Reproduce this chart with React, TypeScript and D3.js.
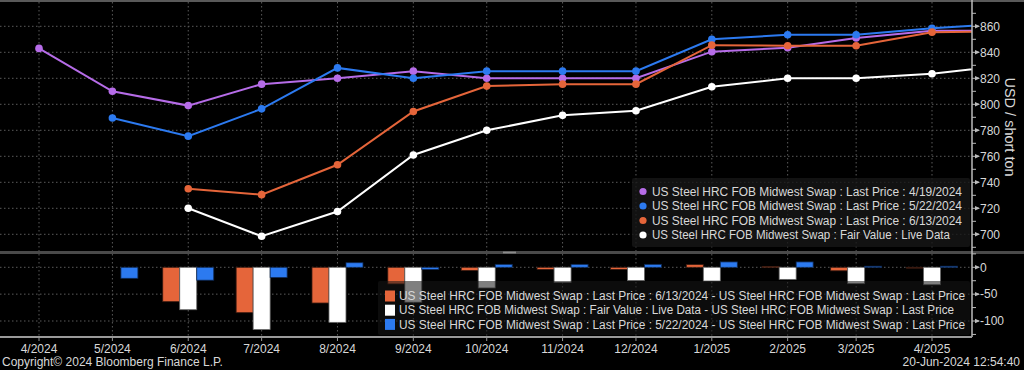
import React from "react";
import * as d3 from "d3";

// ---------- data ----------
const months = [
  "2024-04-01", "2024-05-01", "2024-06-01", "2024-07-01", "2024-08-01", "2024-09-01",
  "2024-10-01", "2024-11-01", "2024-12-01", "2025-01-01", "2025-02-01", "2025-03-01",
  "2025-04-01", "2025-05-01",
];
const tickLabels = [
  "4/2024", "5/2024", "6/2024", "7/2024", "8/2024", "9/2024", "10/2024",
  "11/2024", "12/2024", "1/2025", "2/2025", "3/2025", "4/2025",
];

// Last Price : 4/19/2024
const price0419 = [843, 810, 799, 815.5, 820, 825.5, 820, 820, 820, 840.5, 843.5, 851, 856.5, 856.5];
// Last Price : 5/22/2024
const price0522 = [null, 789.5, 775.5, 796.5, 828, 820, 825.5, 825.5, 825.5, 850, 853.5, 853.5, 858.5, 862];
// Last Price : 6/13/2024
const price0613 = [null, null, 735, 730.5, 753.5, 794.5, 814, 815.5, 815.5, 845.5, 845, 845, 855.5, 856];
// Fair Value : Live Data
const fairValue = [null, null, 720, 698.5, 717.5, 761, 780, 791.5, 795, 813.5, 820, 820, 823.5, 830];

// spreads (bottom panel)
const diff0613 = [null, null, -64, -84.5, -66.5, -31, -6, -4, -4, 5, 1.5, -6.5, -1];
const diffFair = [null, null, -79, -116, -102.5, -65, -38.5, -28, -24.5, -25.5, -22.5, -30.5, -32.5];
const diff0522 = [null, -20.5, -24, -19, 8.5, -4, 5.5, 5.5, 5.5, 10, 10, 2, 2];

const topTicks = [700, 720, 740, 760, 780, 800, 820, 840, 860];
const topMinor = [690, 710, 730, 750, 770, 790, 810, 830, 850, 870];
const botTicks = [0, -50, -100];
const botMinor = [25, -25, -75, -125];

const lineLegend = [
  "US Steel HRC FOB Midwest Swap : Last Price : 4/19/2024",
  "US Steel HRC FOB Midwest Swap : Last Price : 5/22/2024",
  "US Steel HRC FOB Midwest Swap : Last Price : 6/13/2024",
  "US Steel HRC FOB Midwest Swap : Fair Value : Live Data",
];
const barLegend = [
  "US Steel HRC FOB Midwest Swap : Last Price : 6/13/2024 - US Steel HRC FOB Midwest Swap : Last Price",
  "US Steel HRC FOB Midwest Swap : Fair Value : Live Data - US Steel HRC FOB Midwest Swap : Last Price",
  "US Steel HRC FOB Midwest Swap : Last Price : 5/22/2024 - US Steel HRC FOB Midwest Swap : Last Price",
];

// ---------- styles ----------
const C_PURPLE = "#b66ce8";
const C_BLUE = "#2c7af0";
const C_ORANGE = "#e5653a";
const C_WHITE = "#ffffff";
const FONT = "'Liberation Sans', Arial, sans-serif";
const TXT = "#d8d8d8";
const GRID = "#5a5a5a";

const W = 1024;
const H = 370;
const AXIS_X = 972;
const TOP_Y0 = 2, TOP_Y1 = 251;
const BOT_Y0 = 254, BOT_Y1 = 337;

export default function App() {
  const dates = months.map((m) => new Date(m + "T00:00:00Z"));
  const x = d3
    .scaleUtc()
    .domain([new Date("2024-04-01T00:00:00Z"), new Date("2025-04-01T00:00:00Z")])
    .range([39, 932]);
  const yTop = d3.scaleLinear().domain([700, 860]).range([234.3, 26.3]);
  const yBot = d3.scaleLinear().domain([0, -100]).range([267.3, 321]);

  const lineSeries = [
    { vals: price0419, color: C_PURPLE },
    { vals: price0522, color: C_BLUE },
    { vals: price0613, color: C_ORANGE },
    { vals: fairValue, color: C_WHITE },
  ];
  const barSeries = [
    { vals: diff0613, color: C_ORANGE, off: -25.5, stroke: "#3a1a10" },
    { vals: diffFair, color: C_WHITE, off: -8.5, stroke: "#666" },
    { vals: diff0522, color: C_BLUE, off: 8.5, stroke: "#0f2a55" },
  ];
  const barW = 17;

  const lineGen = d3
    .line<[Date, number | null]>()
    .defined((d) => d[1] != null)
    .x((d) => x(d[0]))
    .y((d) => yTop(d[1] as number));

  const tickDates = dates.slice(0, tickLabels.length);

  return (
    <div style={{ position: "fixed", left: 0, top: 0, width: W, height: H, background: "#000" }}>
      <svg width={W} height={H} style={{ display: "block", background: "#000" }} fontFamily={FONT}>
        <defs>
          <clipPath id="clipTop">
            <rect x={0} y={TOP_Y0} width={AXIS_X} height={TOP_Y1 - TOP_Y0} />
          </clipPath>
          <clipPath id="clipBot">
            <rect x={0} y={BOT_Y0} width={AXIS_X} height={BOT_Y1 - BOT_Y0} />
          </clipPath>
        </defs>

        {/* top border */}
        <line x1={0} x2={W} y1={1} y2={1} stroke="#777" strokeWidth={1.5} />

        {/* grids */}
        <g stroke={GRID} strokeWidth={1} strokeDasharray="1.5,2.5">
          {topTicks.map((t) => (
            <line key={"gt" + t} x1={0} x2={AXIS_X} y1={yTop(t)} y2={yTop(t)} />
          ))}
          {tickDates.map((d, i) => (
            <line key={"gv" + i} x1={x(d)} x2={x(d)} y1={TOP_Y0} y2={TOP_Y1} />
          ))}
          {botTicks.map((t) => (
            <line key={"gb" + t} x1={0} x2={AXIS_X} y1={yBot(t)} y2={yBot(t)} />
          ))}
          {tickDates.map((d, i) => (
            <line key={"gbv" + i} x1={x(d)} x2={x(d)} y1={BOT_Y0} y2={BOT_Y1} />
          ))}
        </g>

        {/* lines */}
        <g clipPath="url(#clipTop)">
          {lineSeries.map((s, si) => {
            const pts = dates.map((d, i) => [d, s.vals[i]] as [Date, number | null]);
            return (
              <g key={"ls" + si}>
                <path d={lineGen(pts) || ""} fill="none" stroke={s.color} strokeWidth={2} />
                {pts
                  .filter((p) => p[1] != null)
                  .map((p, j) => (
                    <circle key={j} cx={x(p[0])} cy={yTop(p[1] as number)} r={3.8} fill={s.color} />
                  ))}
              </g>
            );
          })}
        </g>

        {/* bars */}
        <g clipPath="url(#clipBot)">
          {barSeries.map((s, si) =>
            tickDates.map((d, i) => {
              const v = s.vals[i];
              if (v == null) return null;
              const y0 = yBot(0);
              const y1 = yBot(v);
              return (
                <rect
                  key={"b" + si + "_" + i}
                  x={x(d) + s.off}
                  y={Math.min(y0, y1)}
                  width={barW}
                  height={Math.max(0.8, Math.abs(y1 - y0))}
                  fill={s.color}
                  stroke={s.stroke}
                  strokeWidth={0.8}
                />
              );
            })
          )}
        </g>

        {/* separator */}
        <rect x={0} y={251} width={W} height={3} fill="#4a4a4a" />
        <rect x={503} y={251.6} width={13} height={1.8} fill="#8a8a8a" />

        {/* top legend */}
        <rect x={632} y={178} width={338} height={69} rx={2} fill="rgba(22,22,22,0.8)" />
        {lineLegend.map((t, i) => (
          <g key={"ll" + i}>
            <circle cx={643} cy={191.5 + i * 14.5} r={3.6} fill={lineSeries[i].color} />
            <text
              x={652}
              y={191.5 + i * 14.5}
              dy="0.35em"
              fontSize={12}
              fill={TXT}
              textLength={i === 3 ? 298 : 310}
              lengthAdjust="spacingAndGlyphs"
            >
              {t}
            </text>
          </g>
        ))}

        {/* bottom legend */}
        <rect x={378} y={281} width={592} height={54} rx={2} fill="rgba(22,22,22,0.55)" />
        {barLegend.map((t, i) => (
          <g key={"bl" + i}>
            <rect x={385} y={290.5 + i * 14.2} width={10} height={11} fill={barSeries[i].color} />
            <text
              x={399}
              y={296 + i * 14.2}
              dy="0.35em"
              fontSize={12}
              fill={TXT}
              textLength={i === 1 ? 555 : 566}
              lengthAdjust="spacingAndGlyphs"
            >
              {t}
            </text>
          </g>
        ))}

        {/* right axis */}
        <line x1={AXIS_X} x2={AXIS_X} y1={0} y2={BOT_Y1} stroke="#bbb" strokeWidth={1.5} />
        {topTicks.map((t) => (
          <g key={"ta" + t}>
            <line x1={AXIS_X} x2={AXIS_X + 7} y1={yTop(t)} y2={yTop(t)} stroke="#bbb" strokeWidth={1} />
            <path
              d={`M${AXIS_X + 3},${yTop(t) - 2.2}L${AXIS_X + 8},${yTop(t)}L${AXIS_X + 3},${yTop(t) + 2.2}Z`}
              fill="#bbb"
            />
            <text x={AXIS_X + 8} y={yTop(t)} dy="0.35em" fontSize={12} fill={TXT}>
              {t}
            </text>
          </g>
        ))}
        {topMinor.map((t) => (
          <line key={"tm" + t} x1={AXIS_X} x2={AXIS_X + 4} y1={yTop(t)} y2={yTop(t)} stroke="#bbb" strokeWidth={1} />
        ))}
        {botTicks.map((t) => (
          <g key={"ba" + t}>
            <line x1={AXIS_X} x2={AXIS_X + 7} y1={yBot(t)} y2={yBot(t)} stroke="#bbb" strokeWidth={1} />
            <path
              d={`M${AXIS_X + 3},${yBot(t) - 2.2}L${AXIS_X + 8},${yBot(t)}L${AXIS_X + 3},${yBot(t) + 2.2}Z`}
              fill="#bbb"
            />
            <text x={AXIS_X + 8} y={yBot(t)} dy="0.35em" fontSize={12} fill={TXT}>
              {t === 0 ? "0" : "-" + Math.abs(t)}
            </text>
          </g>
        ))}
        {botMinor.map((t) => (
          <line key={"bm" + t} x1={AXIS_X} x2={AXIS_X + 4} y1={yBot(t)} y2={yBot(t)} stroke="#bbb" strokeWidth={1} />
        ))}
        <text
          transform={`translate(1010,127) rotate(90)`}
          textAnchor="middle"
          dy="0.35em"
          fontSize={14.5}
          fill={TXT}
        >
          USD / short ton
        </text>

        {/* bottom axis */}
        <line x1={0} x2={AXIS_X} y1={BOT_Y1} y2={BOT_Y1} stroke="#999" strokeWidth={2} />
        {tickDates.map((d, i) => (
          <g key={"xa" + i}>
            <line x1={x(d)} x2={x(d)} y1={BOT_Y1} y2={BOT_Y1 + 4} stroke="#999" strokeWidth={1} />
            <text x={x(d)} y={349} dy="0.35em" textAnchor="middle" fontSize={12} fill={TXT}>
              {tickLabels[i]}
            </text>
          </g>
        ))}

        {/* footer */}
        <text x={2} y={362} dy="0.35em" fontSize={12} fill={TXT}>
          Copyright© 2024 Bloomberg Finance L.P.
        </text>
        <text x={1020} y={362} dy="0.35em" textAnchor="end" fontSize={12} fill={TXT}>
          20-Jun-2024 12:54:40
        </text>
      </svg>
    </div>
  );
}
